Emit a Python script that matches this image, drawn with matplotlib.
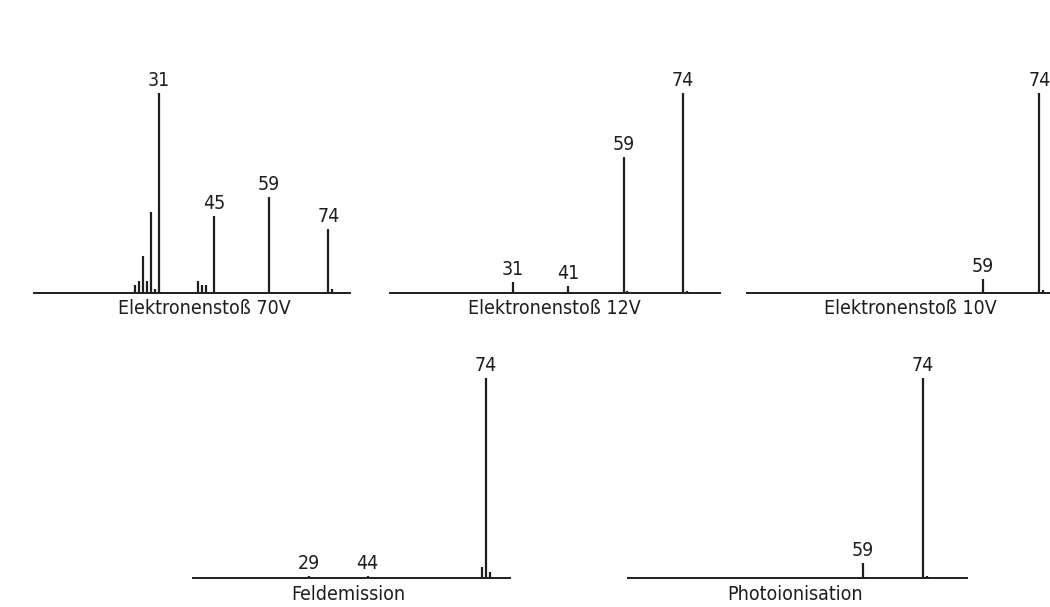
# Mass spectra of one compound under five ionisation methods,
# drawn as stick spectra on bare baselines like the scanned original.

import matplotlib

matplotlib.use("Agg")
import matplotlib.pyplot as plt

plt.rcParams["font.family"] = ["DejaVu Sans"]
plt.rcParams["font.stretch"] = "condensed"

W, H = 1050, 607
INK = "#1e1e1e"

# Peak positions (m/z as drawn) and relative intensities (% of base peak)
ei70_mz = [25, 26, 27, 28, 29, 30, 31, 41, 42, 43, 45, 59, 74, 75]
ei70_int = [4, 6, 18.5, 6, 40.5, 2, 100, 6, 4, 4, 38.5, 48, 32, 2]
ei70_labels = {31: "31", 45: "45", 59: "59", 74: "74"}

ei12_mz = [31, 45, 59, 60, 74, 75]
ei12_int = [5.5, 3.5, 68, 1, 100, 1]
ei12_labels = {31: "31", 45: "41", 59: "59", 74: "74"}

ei10_mz = [59, 74, 75]
ei10_int = [7, 100, 1.5]
ei10_labels = {59: "59", 74: "74"}

fd_mz = [29, 44, 73, 74, 75]
fd_int = [1, 1, 5.5, 100, 3]
fd_labels = {29: "29", 44: "44", 74: "74"}

pi_mz = [59, 74, 75]
pi_int = [7.5, 100, 1]
pi_labels = {59: "59", 74: "74"}

titles = ["Elektronenstoß 70V", "Elektronenstoß 12V", "Elektronenstoß 10V",
          "Feldemission", "Photoionisation"]

# panel layout in pixels: left, right, baseline (from top), x-limits in m/z, caption x
panels = [
    (ei70_mz, ei70_int, ei70_labels, 34, 350, 293, (-0.6, 79.5), 204),
    (ei12_mz, ei12_int, ei12_labels, 390, 720, 293, (-0.05, 83.4), 554),
    (ei10_mz, ei10_int, ei10_labels, 747, 1050, 293, (-3.5, 76.8), 910),
    (fd_mz, fd_int, fd_labels, 193, 510, 578, (-0.33, 80.1), 348),
    (pi_mz, pi_int, pi_labels, 628, 967, 578, (0.3, 85.1), 795),
]

fig = plt.figure(figsize=(W / 100, H / 100), dpi=100)

for (mz, inten, labels, x0, x1, base, xlim, cap_x), title in zip(panels, titles):
    ax_h = 240
    ax = fig.add_axes([x0 / W, (H - base) / H, (x1 - x0) / W, ax_h / H])
    ax.set_xlim(*xlim)
    ax.set_ylim(0, ax_h / 2)
    ax.axis("off")
    ax.axhline(0, color=INK, lw=1.4, clip_on=False)
    ax.vlines(mz, 0, inten, color=INK, lw=1.6)
    for m, text in labels.items():
        y = inten[mz.index(m)]
        ax.annotate(text, (m, y), xytext=(0, 2.5), textcoords="offset points",
                    ha="center", va="bottom", fontsize=14, color=INK)
    fig.text(cap_x / W, (H - base - 16) / H, title, ha="center", va="center",
             fontsize=14, color=INK)

fig.savefig("out.png", dpi=100)
